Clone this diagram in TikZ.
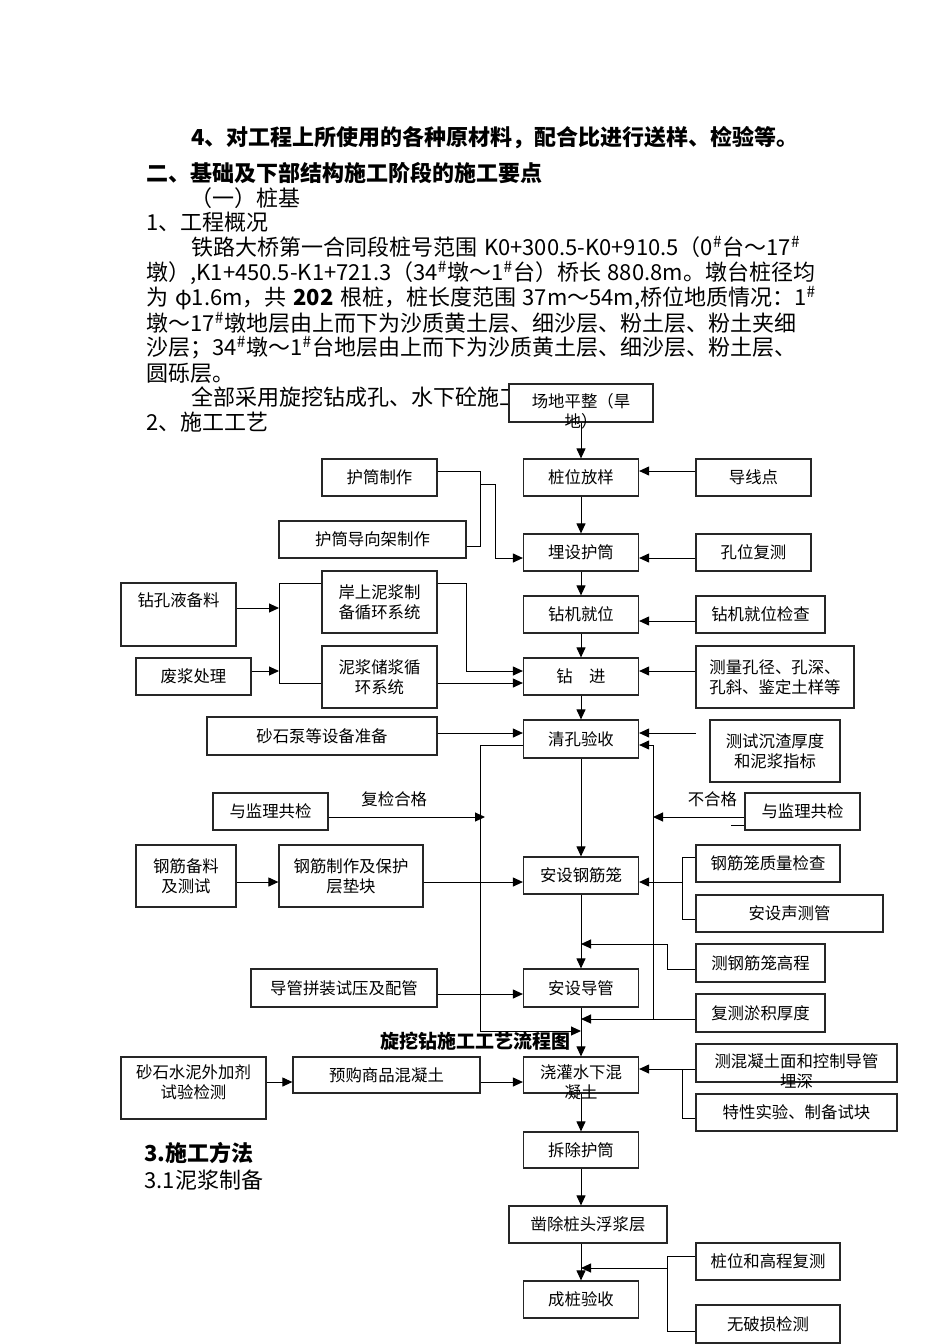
\documentclass[tikz,border=0pt]{standalone}
\usepackage{fontspec}
\setmainfont{Noto Sans CJK SC}
\usetikzlibrary{arrows.meta}
\XeTeXlinebreaklocale "zh"
\XeTeXlinebreakskip=0pt plus 2pt

\newcommand\boxfont{\fontsize{8.2}{9.8}\selectfont}
\newcommand\bodyfont{\fontsize{11}{12.5}\selectfont}
\newcommand\sh{\textsuperscript{\#}}
\newcommand\gap{\hspace{0.3em}}

\begin{document}
\begin{tikzpicture}[x=0.5pt, y=-0.5pt, ->, >={Triangle[length=5pt,width=4.5pt]}, line width=0.5pt,
  box/.style={draw=black!85, line width=0.6pt, rectangle, fill=white, inner sep=0pt, minimum width=57.5pt, minimum height=18.5pt, align=center},
  txt/.style={anchor=west, inner sep=0pt, font=\bodyfont},
  lbl/.style={inner sep=0pt, align=center, font=\boxfont}]
  \tikzstyle{every node}=[font=\boxfont]
  \useasboundingbox (0,0) rectangle (950,1344);

  % text of the page
  \node[txt, font=\bodyfont\bfseries] (h4) at (191,138) {4、对工程上所使用的各种原材料，配合比进行送样、检验等。};
  \node[txt, font=\bodyfont\bfseries] (h2) at (146,173) {二、基础及下部结构施工阶段的施工要点};
  \node[txt] (p1) at (190,198) {（一）桩基};
  \node[txt] (p2) at (146,222) {1、工程概况};
  \node[txt] (p3) at (191,247) {\hbox to 309.5pt{铁路大桥第一合同段桩号范围\gap K0+300.5-K0+910.5（0\sh 台～17\sh}};
  \node[txt] (p4) at (146,273) {\hbox to 332pt{墩）,K1+450.5-K1+721.3（34\sh 墩～1\sh 台）桥长\gap 880.8m。墩台桩径均}};
  \node[txt] (p5) at (146,298) {\hbox to 332pt{为\gap φ1.6m，共\gap\textbf{202}\gap 根桩，桩长度范围\gap 37m～54m,桥位地质情况：1\sh}};
  \node[txt] (p6) at (146,323) {\hbox to 332pt{墩～17\sh 墩地层由上而下为沙质黄土层、细沙层、粉土层、粉土夹细}};
  \node[txt] (p7) at (146,348) {\hbox to 332pt{沙层；34\sh 墩～1\sh 台地层由上而下为沙质黄土层、细沙层、粉土层、}};
  \node[txt] (p8) at (146,373) {圆砾层。};
  \node[txt] (p9) at (191,397) {全部采用旋挖钻成孔、水下砼施工};
  \node[txt] (p10) at (146,422) {2、施工工艺};
  \node[txt, font=\bodyfont\bfseries] (s3) at (144,1153) {3.施工方法};
  \node[txt] (s31) at (144,1180) {3.1泥浆制备};

  % main column
  \node[box, minimum width=72pt, minimum height=19pt, label={[lbl, yshift=-4pt]center:{场地平整（旱\\地）}}] (site) at (581,403) {};
  \node[box] (stake) at (581,477.5) {桩位放样};
  \node[box] (casing) at (581,552.5) {埋设护筒};
  \node[box] (rig) at (581,614.5) {钻机就位};
  \node[box] (drill) at (581,676.5) {钻\hspace{1em}进};
  \node[box, minimum height=19pt] (clean) at (581,739) {清孔验收};
  \node[box] (cage) at (581,875.5) {安设钢筋笼};
  \node[box, minimum height=19pt] (tube) at (581,988) {安设导管};
  \node[box, minimum height=18pt, label={[lbl, yshift=-3.75pt]center:{浇灌水下混\\凝土}}] (pour) at (581,1075) {};
  \node[box, minimum height=18pt] (remove) at (581,1150) {拆除护筒};
  \node[box, minimum width=79pt] (chisel) at (588,1224.5) {凿除桩头浮浆层};
  \node[box] (accept) at (581,1299.5) {成桩验收};

  % right column
  \node[box] (guide) at (753.5,477.5) {导线点};
  \node[box] (holechk) at (753.5,552.5) {孔位复测};
  \node[box, minimum width=64.5pt] (rigchk) at (760.5,614.5) {钻机就位检查};
  \node[box, minimum width=79pt, minimum height=31pt] (measure) at (775,677) {测量孔径、孔深、\\孔斜、鉴定土样等};
  \node[box, minimum width=65pt, minimum height=31pt] (sedim) at (775,751) {测试沉渣厚度\\和泥浆指标};
  \node[box] (superR) at (802.5,811.5) {与监理共检};
  \node[box, minimum width=72pt] (cagechk) at (768,863.5) {钢筋笼质量检查};
  \node[box, minimum width=93.5pt] (sonic) at (789.5,913.5) {安设声测管};
  \node[box, minimum width=64.5pt, minimum height=19pt] (cagelvl) at (760.5,963) {测钢筋笼高程};
  \node[box, minimum width=64.5pt, minimum height=19pt] (silt) at (760.5,1013) {复测淤积厚度};
  \node[box, minimum width=100.5pt, minimum height=19pt, label={[lbl, yshift=-4pt]center:{测混凝土面和控制导管\\埋深}}] (level) at (796.5,1063) {};
  \node[box, minimum width=100.5pt] (sample) at (796.5,1112.5) {特性实验、制备试块};
  \node[box, minimum width=72pt] (recheck) at (768,1261.5) {桩位和高程复测};
  \node[box, minimum width=72pt, minimum height=19pt] (ndt) at (768,1324) {无破损检测};

  % left columns
  \node[box] (casingmk) at (379.5,477.5) {护筒制作};
  \node[box, minimum width=93.5pt] (guidemk) at (372.5,539.5) {护筒导向架制作};
  \node[box, minimum height=31pt] (slurryA) at (379.5,602) {岸上泥浆制\\备循环系统};
  \node[box, minimum height=31pt] (slurryB) at (379.5,677) {泥浆储浆循\\环系统};
  \node[box, minimum height=31.5pt, label={[lbl, yshift=7.25pt]center:钻孔液备料}] (fluid) at (178.5,614.5) {};
  \node[box] (waste) at (193.5,676.5) {废浆处理};
  \node[box, minimum width=115pt, minimum height=19pt] (pump) at (322,736) {砂石泵等设备准备};
  \node[box] (superL) at (270.5,811.5) {与监理共检};
  \node[box, minimum width=50pt, minimum height=31pt] (steelA) at (186,876) {钢筋备料\\及测试};
  \node[box, minimum width=72pt, minimum height=31pt] (steelB) at (351,876) {钢筋制作及保护\\层垫块};
  \node[box, minimum width=93pt, minimum height=19pt] (tubeprep) at (344,988) {导管拼装试压及配管};
  \node[box, minimum width=72.5pt, minimum height=31pt, label={[lbl, yshift=2.75pt]center:{砂石水泥外加剂\\试验检测}}] (mat) at (193.5,1088) {};
  \node[box, minimum width=93.5pt, minimum height=18pt] (rmc) at (386.5,1075) {预购商品混凝土};

  % bend points
  \coordinate (free) at (696,733);
  \coordinate (rtop) at (653,745);
  \coordinate (rbot) at (653,1019);
  \coordinate (rj) at (653,817);
  \coordinate (lj) at (485,817);
  \coordinate (cb) at (682,882);
  \coordinate (pb) at (682,1069);
  \coordinate (ab) at (667,1268);
  \coordinate (hb) at (480,484);

  % main flow
  \draw (site) -- (stake);
  \draw (stake) -- (casing);
  \draw (casing) -- (rig);
  \draw (rig) -- (drill);
  \draw (drill) -- (clean);
  \draw (clean) -- (cage);
  \draw (cage) -- (tube);
  \draw (tube) -- (pour);
  \draw (pour) -- (remove);
  \draw (remove.south) -- (remove.south |- chisel.north);
  \draw (accept |- chisel.south) -- (accept);

  % inputs from the right
  \draw (guide.west |- 0,471) -- (stake.east |- 0,471);
  \draw (holechk.west |- 0,558) -- (casing.east |- 0,558);
  \draw (rigchk.west |- 0,621) -- (rig.east |- 0,621);
  \draw (measure.west |- 0,671) -- (drill.east |- 0,671);
  \draw (free) -- (clean.east |- free);
  \draw (superR.west |- rj) -- (rj) node[above=1.5pt, pos=0.35] {不合格};
  \draw[-] (superR.west |- 0,825) -- ++(-13,0);
  \draw (silt.west |- rbot) -- (tube |- rbot);
  \draw (rbot) -- (rtop) -- (clean.east |- rtop);
  \draw[-] (cagechk.west |- 0,857) -| (682,919) -- (sonic.west |- 0,919);
  \draw (cb) -- (cage.east |- cb);
  \draw (cagelvl.west |- 0,969) -| (667,944) -- (tube |- 0,944);
  \draw (level.west |- pb) -- (pour.east |- pb);
  \draw[-] (pb) |- (sample.west |- 0,1118);
  \draw[-] (recheck.west |- 0,1256) -| (667,1331) -- (ndt.west |- 0,1331);
  \draw (ab) -- (accept |- ab);

  % inputs from the left
  \draw[-] (casingmk.east |- 0,471) -| (480,546) -- (guidemk.east |- 0,546);
  \draw (hb) -| (495,558) -- (casing.west |- 0,558);
  \draw (fluid.east |- 0,608) -- (279,608);
  \draw (waste.east |- 0,671) -- (279,671);
  \draw[-] (slurryA.west |- 0,583) -| (279,683) -- (slurryB.west |- 0,683);
  \draw (slurryA.east |- 0,583) -| (466,671) -- (drill.west |- 0,671);
  \draw (slurryB.east |- 0,683) -- (drill.west |- 0,683);
  \draw (pump.east |- 0,733) -- (clean.west |- 0,733);
  \draw (clean.west |- 0,745) -| (480,1031) -- (pour |- 0,1031);
  \draw (superL.east |- lj) -- (lj) node[above=1.5pt, pos=0.42] {复检合格};
  \draw (steelA.east |- 0,882) -- (steelB.west |- 0,882);
  \draw (steelB.east |- 0,882) -- (cage.west |- 0,882);
  \draw (tubeprep.east |- 0,994) -- (tube.west |- 0,994);
  \draw (mat.east |- 0,1082) -- (rmc.west |- 0,1082);
  \draw (rmc.east |- 0,1082) -- (pour.west |- 0,1082);

  \node[font=\fontsize{9.5}{11}\selectfont\bfseries] (title) at (475,1041) {旋挖钻施工工艺流程图};
\end{tikzpicture}
\end{document}
